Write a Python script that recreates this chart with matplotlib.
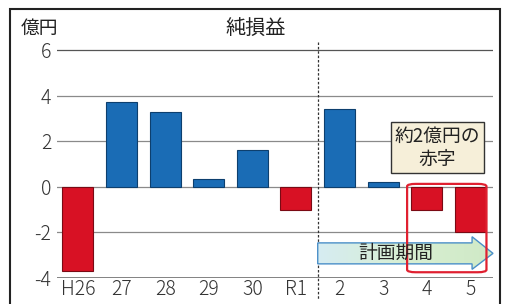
import matplotlib
matplotlib.use("Agg")
import matplotlib.pyplot as plt
import numpy as np
from matplotlib.patches import FancyBboxPatch, Polygon, Rectangle
from matplotlib.colors import LinearSegmentedColormap

plt.rcParams['font.family'] = ['Noto Sans CJK JP', 'DejaVu Sans']

categories = ["H26", "27", "28", "29", "30", "R1", "2", "3", "4", "5"]
values = [-3.7, 3.7, 3.3, 0.35, 1.6, -1.0, 3.4, 0.2, -1.0, -2.0]
yticks = [-4, -2, 0, 2, 4, 6]

W, H = 510, 304
fig = plt.figure(figsize=(W / 100, H / 100), dpi=100)
ax = fig.add_axes([57 / W, 26 / H, (493 - 57) / W, (278 - 42) / H])
ax.set_xlim(-0.48, 9.52)
ax.set_ylim(-4, 6.35)

x = np.arange(len(categories))
colors = ['#1a6cb5' if v >= 0 else '#d81124' for v in values]
edges = ['#0d3f6e' if v >= 0 else '#7a0a14' for v in values]
ax.bar(x, values, width=0.71, color=colors, edgecolor=edges, linewidth=0.8, zorder=3)

for t in yticks[1:]:
    ax.axhline(t, color='#555555' if t == 6 else '#8a8a8a', lw=0.9, zorder=1)
ax.axhline(-4, color='#777777', lw=2.0, zorder=2)

for s in ax.spines.values():
    s.set_visible(False)
ax.set_xticks(x)
ax.set_xticklabels(categories, fontweight='light')
ax.set_yticks(yticks)
ax.set_yticklabels([str(t) for t in yticks], fontweight='light')
ax.tick_params(length=0, labelsize=14, colors='#333333', pad=4)
ax.tick_params(axis='x', pad=1)

# dashed divider
ax.plot([5.5, 5.5], [6.35, -4.96], ls=(0, (2, 1.5)), color='#333333', lw=0.9,
        clip_on=False, zorder=4)

# title and unit
fig.text(256 / W, 1 - 28 / H, "純損益", ha='center', va='center', fontsize=14.5, color='#222222')
fig.text(21 / W, 1 - 28 / H, "億円", ha='left', va='center', fontsize=13.5, color='#222222')

# annotation box
ax.text(8.25, 1.71, "約2億円の\n赤字", ha='center', va='center', fontsize=13.5,
        color='#222222', linespacing=1.1, zorder=6,
        bbox=dict(boxstyle='square,pad=0.2', fc='#f6efd9', ec='#333333', lw=1.0))

# red rounded rectangle
rr = FancyBboxPatch((7.6, -3.72), 1.72, 3.82,
                    boxstyle='round,pad=0.05,rounding_size=0.2',
                    fc='none', ec='#e02030', lw=1.6, zorder=7,
                    mutation_aspect=0.55)
ax.add_patch(rr)

# arrow with gradient
x0, xh, xt = 5.5, 9.04, 9.52
yb1, yb2 = -2.46, -3.38
yh1, yh2 = -2.19, -3.62
ym = (yb1 + yb2) / 2
verts = [(x0, yb1), (xh, yb1), (xh, yh1), (xt, ym), (xh, yh2), (xh, yb2), (x0, yb2)]
poly = Polygon(verts, closed=True, fc='none', ec='#4a8fc8', lw=1.0, zorder=6, clip_on=False)
ax.add_patch(poly)
grad = np.linspace(0, 1, 256).reshape(1, -1)
cmap = LinearSegmentedColormap.from_list('g', ['#d6ecf2', '#d8efd2', '#cfe9c6'])
im = ax.imshow(grad, extent=[x0, xt, yh2, yh1], aspect='auto', cmap=cmap, zorder=5,
               interpolation='bilinear')
im.set_clip_path(poly)
ax.text(7.3, ym, "計画期間", ha='center', va='center', fontsize=13.5, color='#222222', zorder=8)

ax.set_xlim(-0.48, 9.52)
ax.set_ylim(-4, 6.35)

# outer frame
fig.patches.append(Rectangle((10 / W, -0.05), (500 - 10) / W, 1 - 9 / H + 0.05,
                             transform=fig.transFigure, fill=False, ec='#222222', lw=1.5))

fig.savefig("out.png", dpi=100)
